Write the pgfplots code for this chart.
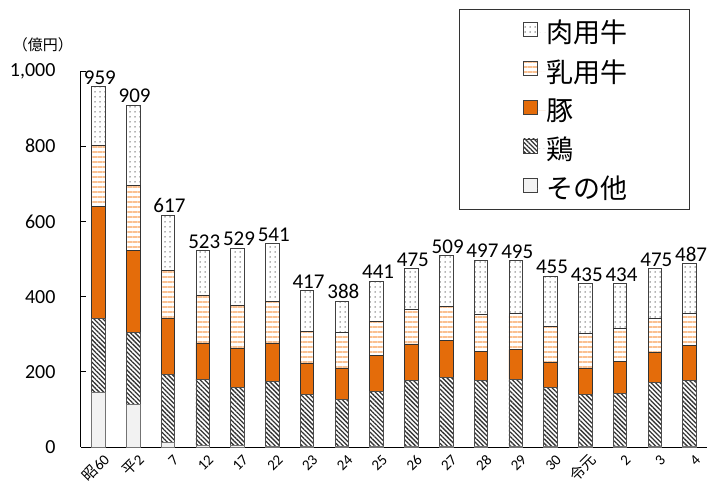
\documentclass[border=0pt]{standalone}
\usepackage{fontspec}
\setmainfont{Carlito}
\newfontfamily\cjk{Noto Sans CJK JP}
\usepackage{pgfplots}
\usepackage{pgfplotstable}
\pgfplotsset{compat=1.18}
\usetikzlibrary{patterns.meta}

\definecolor{pork}{HTML}{E46C0A}
\definecolor{dairy}{HTML}{FAC090}
\definecolor{other}{HTML}{F2F2F2}

% 億円
\pgfplotstableread{
x  other chicken pork dairy beef total
0  145   198     296  164   156  959
1  112   193     218  173   213  909
2  13    181     149  128   146  617
3  3     177     96   127   120  523
4  3     155     104  115   152  529
5  2     172     102  110   155  541
6  1     138     84   85    109  417
7  1     126     83   95    83   388
8  1     147     96   90    107  441
9  1     175     98   91    110  475
10 1     184     98   91    135  509
11 1     177     76   98    145  497
12 1     179     79   96    140  495
13 1     158     67   95    134  455
14 1     138     71   91    134  435
15 1     142     84   89    118  434
16 1     171     80   91    132  475
17 1     176     94   83    133  487
}\datatable

\pgfplotsset{
  boxlegend/.style={legend image code/.code={%
    \draw[##1, draw=black!75, line width=0.8pt] (0pt,-4pt) rectangle (14pt,10pt);
    \path[draw=none] (0pt,0pt) -- (22pt,0pt);}},
  commonaxis/.style={
    at={(0,0)}, anchor=south west,
    scale only axis,
    width=626pt, height=376pt,
    xmin=-0.5, xmax=17.5,
    ymin=0, ymax=1000,
    clip=false,
    /pgf/number format/assume math mode=true,
  },
}

\begin{document}
\begin{tikzpicture}
\begin{axis}[
    commonaxis,
    ybar stacked,
    bar width=13.5pt,
    axis x line*=bottom,
    axis y line*=left,
    axis line style={line width=1pt, black},
    ytick={0,200,400,600,800,1000},
    tick align=inside,
    major tick length=5pt,
    ytick style={line width=0.8pt, black},
    xtick=data,
    xtick style={draw=none},
    xticklabels={{\cjk 昭}60,{\cjk 平}2,7,12,17,22,23,24,25,26,27,28,29,30,{\cjk 令元},2,3,4},
    yticklabel style={font=\fontsize{20}{20}\selectfont, xshift=-22pt},
    xticklabel style={font=\fontsize{15}{15}\selectfont, rotate=45, anchor=east, yshift=-13pt, xshift=2pt},
    reverse legend,
    legend style={
        at={(0.706,1.138)}, anchor=north west,
        draw=none, fill=none,
        font=\cjk\fontsize{27}{27}\selectfont,
        inner sep=0pt,
        row sep=13pt,
        nodes={inner sep=1pt},
        cells={anchor=west},
    },
]
\addplot[fill=other, draw=black!55, line width=0.8pt, boxlegend]
    table[x=x, y=other]{\datatable};
\addplot[pattern={Lines[angle=-45, distance=3.2pt, line width=1.3pt]}, pattern color=black!80,
    draw=black!70, line width=0.8pt, boxlegend]
    table[x=x, y=chicken]{\datatable};
\addplot[fill=pork, draw=black!80, line width=0.8pt, boxlegend]
    table[x=x, y=pork]{\datatable};
\addplot[pattern={Lines[angle=0, distance=5pt, line width=2.4pt]}, pattern color=dairy,
    draw=black!80, line width=0.8pt, boxlegend]
    table[x=x, y=dairy]{\datatable};
\addplot[pattern={Dots[distance=5pt, radius=0.75pt]}, pattern color=black!60,
    draw=black!75, line width=0.8pt, boxlegend]
    table[x=x, y=beef]{\datatable};
\legend{その他,鶏,豚,乳用牛,肉用牛}
\end{axis}
% totals above the bars
\begin{axis}[commonaxis, hide axis]
\addplot[draw=none, mark=none,
    nodes near coords, point meta=explicit,
    nodes near coords style={font=\fontsize{21}{21}\selectfont, anchor=south, inner sep=2pt, xshift=1.5pt, black}]
    table[x=x, y=total, meta=total]{\datatable};
\end{axis}
\draw[black!80, line width=0.8pt] (378pt,238pt) rectangle (608pt,438pt);
\node[font=\cjk\fontsize{15}{15}\selectfont] at (-38pt,402pt) {（億円）};
\pgfresetboundingbox
\path[use as bounding box] (-81pt,-45pt) rectangle (638pt,447pt);
\end{tikzpicture}
\end{document}
